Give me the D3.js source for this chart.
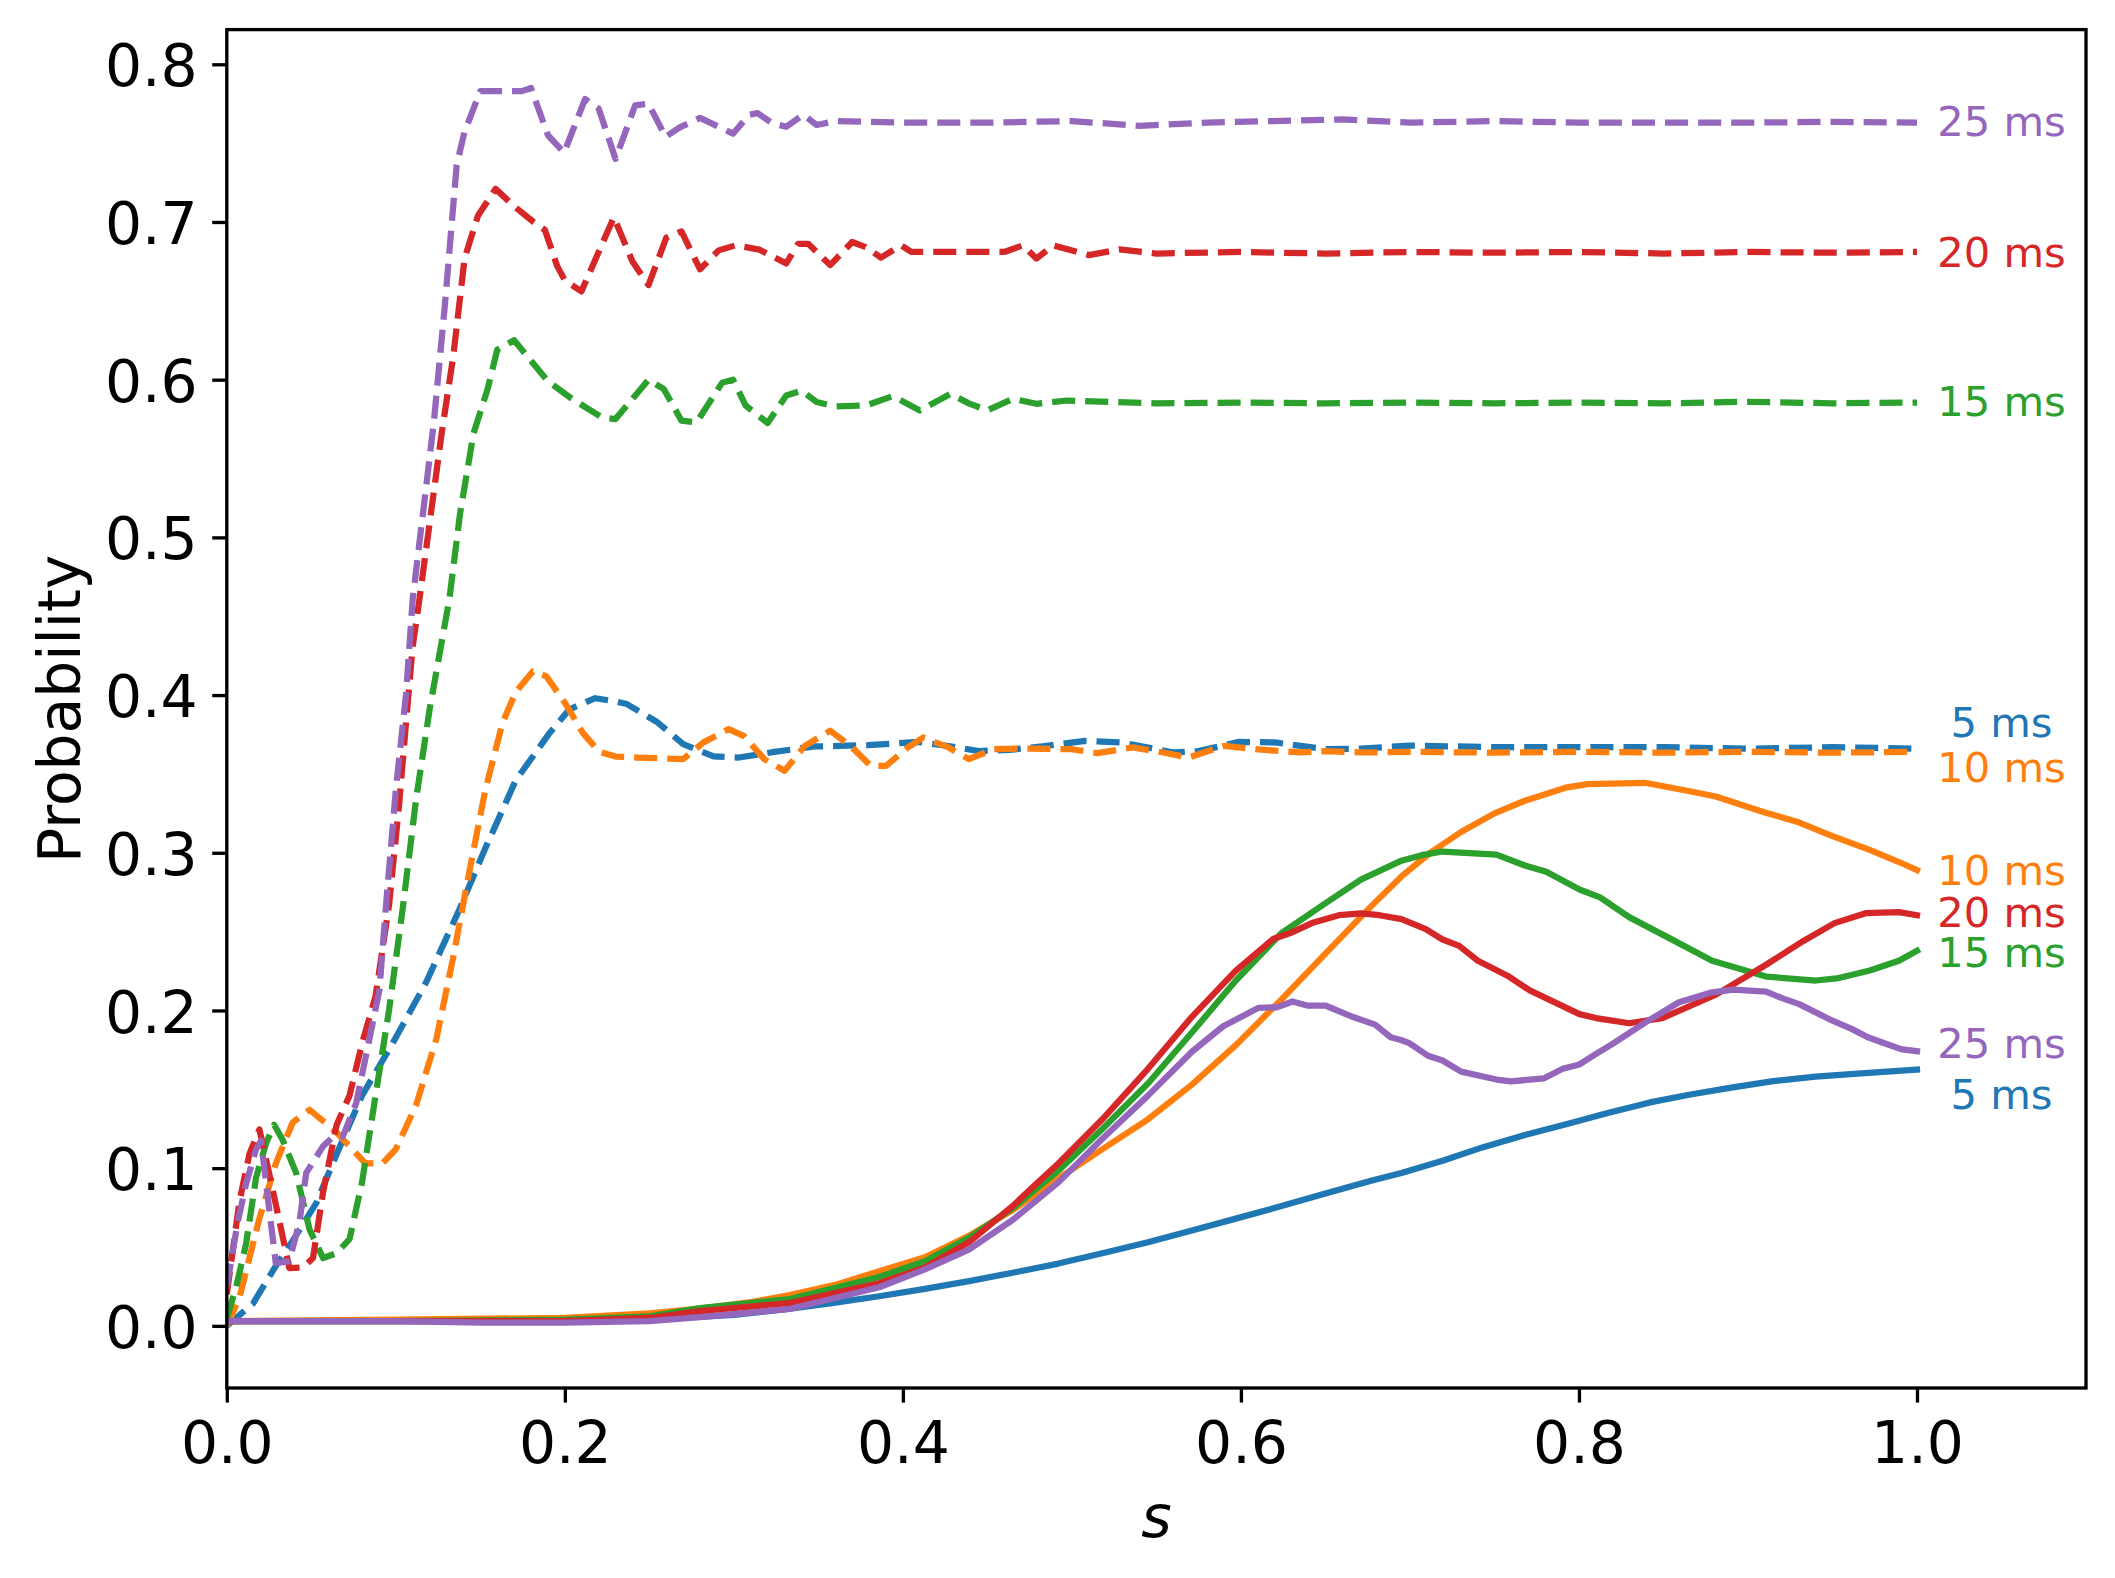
<!DOCTYPE html>
<html>
<head>
<meta charset="utf-8">
<script src="https://cdn.jsdelivr.net/npm/d3@7"></script>
<style>
  html, body { margin: 0; padding: 0; background: #ffffff; }
  svg { display: block; }
</style>
</head>
<body>
<div id="chart"></div>
<script>
// ---------------- DATA ----------------
const durations = ["5 ms", "10 ms", "15 ms", "20 ms", "25 ms"];
const seriesColors = ["#1f77b4", "#ff7f0e", "#2ca02c", "#d62728", "#9467bd"];

const xTicks = [0.0, 0.2, 0.4, 0.6, 0.8, 1.0];
const yTicks = [0.0, 0.1, 0.2, 0.3, 0.4, 0.5, 0.6, 0.7, 0.8];

// dashed curves  [s, probability]
const dashed5 = [[0,0],[0.0154,0.014],[0.029,0.038],[0.039,0.054],[0.053,0.078],[0.065,0.109],[0.08,0.146],[0.098,0.179],[0.118,0.218],[0.1376,0.264],[0.153,0.303],[0.171,0.346],[0.191,0.376],[0.2027,0.391],[0.218,0.398],[0.23,0.396],[0.2367,0.3943],[0.255,0.3826],[0.27,0.3689],[0.288,0.3611],[0.303,0.3604],[0.324,0.364],[0.348,0.3674],[0.379,0.3682],[0.409,0.3703],[0.427,0.3677],[0.445,0.3645],[0.463,0.3652],[0.484,0.3677],[0.508,0.3709],[0.529,0.37],[0.56,0.3636],[0.575,0.3645],[0.599,0.3703],[0.62,0.37],[0.65,0.3657],[0.671,0.3661],[0.7,0.368],[0.75,0.367],[0.8,0.367],[0.85,0.367],[0.9,0.366],[0.95,0.367],[1.0,0.366]];
const dashed10 = [[0,0],[0.0075,0.018],[0.019,0.067],[0.029,0.103],[0.039,0.129],[0.049,0.137],[0.0647,0.123],[0.082,0.103],[0.092,0.103],[0.1,0.112],[0.112,0.14],[0.124,0.182],[0.134,0.234],[0.1435,0.288],[0.153,0.34],[0.163,0.382],[0.171,0.402],[0.181,0.415],[0.189,0.412],[0.2007,0.394],[0.2106,0.376],[0.2204,0.364],[0.23,0.361],[0.243,0.3604],[0.27,0.3594],[0.282,0.37],[0.297,0.3784],[0.306,0.374],[0.318,0.3594],[0.33,0.352],[0.342,0.3678],[0.357,0.3774],[0.369,0.3678],[0.381,0.3551],[0.39,0.3551],[0.403,0.3668],[0.412,0.3731],[0.427,0.3668],[0.439,0.3594],[0.454,0.3657],[0.469,0.3661],[0.4995,0.3657],[0.515,0.3632],[0.536,0.3668],[0.554,0.3636],[0.569,0.3604],[0.59,0.3678],[0.614,0.3652],[0.635,0.3636],[0.65,0.3645],[0.671,0.3636],[0.7,0.364],[0.75,0.3635],[0.8,0.364],[0.85,0.3635],[0.9,0.364],[0.95,0.3635],[1.0,0.364]];
const dashed15 = [[0,0.005],[0.0055,0.0245],[0.0114,0.052],[0.0173,0.094],[0.0233,0.116],[0.028,0.1275],[0.033,0.118],[0.041,0.097],[0.049,0.061],[0.057,0.043],[0.0647,0.046],[0.0726,0.055],[0.08,0.091],[0.088,0.146],[0.096,0.2003],[0.104,0.264],[0.112,0.334],[0.12,0.391],[0.1317,0.461],[0.138,0.515],[0.146,0.566],[0.1543,0.594],[0.16,0.619],[0.17,0.625],[0.19,0.599],[0.204,0.588],[0.222,0.576],[0.23,0.575],[0.2495,0.60],[0.2586,0.594],[0.269,0.574],[0.278,0.573],[0.293,0.598],[0.2995,0.60],[0.307,0.5836],[0.32,0.5725],[0.331,0.59],[0.34,0.5931],[0.349,0.5858],[0.36,0.583],[0.378,0.5836],[0.394,0.5896],[0.41,0.5805],[0.428,0.591],[0.439,0.585],[0.45,0.5805],[0.465,0.5879],[0.479,0.5847],[0.497,0.5868],[0.55,0.585],[0.6,0.5855],[0.65,0.585],[0.7,0.5855],[0.75,0.585],[0.8,0.5855],[0.85,0.585],[0.9,0.586],[0.95,0.585],[1.0,0.5855]];
const dashed20 = [[0,0.02],[0.0075,0.079],[0.0134,0.109],[0.0193,0.1246],[0.025,0.097],[0.031,0.067],[0.037,0.0366],[0.045,0.037],[0.051,0.043],[0.057,0.085],[0.065,0.1276],[0.0726,0.146],[0.08,0.179],[0.088,0.209],[0.096,0.267],[0.102,0.331],[0.106,0.382],[0.11,0.431],[0.114,0.461],[0.127,0.565],[0.134,0.615],[0.1407,0.677],[0.1486,0.704],[0.159,0.721],[0.17,0.71],[0.1815,0.70],[0.1882,0.695],[0.1955,0.672],[0.2,0.663],[0.2098,0.656],[0.229,0.703],[0.24,0.675],[0.2495,0.66],[0.26,0.69],[0.269,0.694],[0.28,0.67],[0.291,0.682],[0.301,0.6852],[0.315,0.6825],[0.331,0.6737],[0.338,0.6862],[0.344,0.6862],[0.357,0.6727],[0.37,0.6873],[0.378,0.6841],[0.387,0.6774],[0.399,0.6852],[0.405,0.681],[0.43,0.681],[0.46,0.681],[0.471,0.6852],[0.479,0.6768],[0.489,0.6852],[0.51,0.679],[0.528,0.6826],[0.55,0.68],[0.6,0.681],[0.65,0.68],[0.7,0.681],[0.75,0.6805],[0.8,0.681],[0.85,0.68],[0.9,0.681],[0.95,0.6805],[1.0,0.681]];
const dashed25 = [[0,0.025],[0.0065,0.066],[0.0114,0.09],[0.0173,0.112],[0.0203,0.1175],[0.0233,0.09],[0.026,0.066],[0.029,0.0397],[0.037,0.041],[0.043,0.066],[0.047,0.097],[0.057,0.114],[0.063,0.12],[0.0686,0.12],[0.0765,0.141],[0.0844,0.182],[0.0903,0.213],[0.094,0.264],[0.1,0.34],[0.106,0.40],[0.11,0.461],[0.1225,0.573],[0.129,0.647],[0.136,0.736],[0.1406,0.757],[0.15,0.783],[0.1746,0.783],[0.18,0.785],[0.19,0.755],[0.1996,0.744],[0.212,0.778],[0.22,0.772],[0.23,0.74],[0.2416,0.774],[0.2495,0.775],[0.2596,0.754],[0.268,0.76],[0.28,0.766],[0.2995,0.756],[0.309,0.768],[0.314,0.769],[0.323,0.7625],[0.331,0.7604],[0.341,0.768],[0.349,0.7615],[0.36,0.764],[0.4,0.763],[0.45,0.763],[0.5,0.764],[0.54,0.761],[0.58,0.763],[0.62,0.764],[0.66,0.765],[0.7,0.763],[0.75,0.764],[0.8,0.763],[0.85,0.763],[0.9,0.763],[0.95,0.7635],[1.0,0.763]];

// solid curves  [s, probability]
const solid5 = [[0,0.003],[0.1,0.003],[0.2,0.003],[0.25,0.004],[0.3,0.007],[0.33,0.0105],[0.36,0.0148],[0.386,0.0188],[0.413,0.0235],[0.44,0.0285],[0.465,0.0337],[0.492,0.0395],[0.518,0.046],[0.545,0.053],[0.571,0.0605],[0.597,0.068],[0.624,0.076],[0.65,0.084],[0.677,0.092],[0.695,0.097],[0.7193,0.1047],[0.7438,0.1135],[0.768,0.121],[0.793,0.128],[0.817,0.135],[0.842,0.1417],[0.866,0.1467],[0.891,0.1512],[0.915,0.1552],[0.94,0.158],[0.965,0.16],[1.0,0.1625]];
const solid10 = [[0,0.003],[0.1,0.004],[0.2,0.005],[0.25,0.008],[0.28,0.011],[0.31,0.015],[0.333,0.0195],[0.36,0.026],[0.386,0.0347],[0.413,0.0435],[0.439,0.0571],[0.465,0.0735],[0.492,0.0935],[0.518,0.112],[0.545,0.131],[0.571,0.153],[0.597,0.178],[0.624,0.207],[0.65,0.236],[0.677,0.266],[0.695,0.285],[0.712,0.3],[0.73,0.313],[0.75,0.325],[0.768,0.333],[0.793,0.3415],[0.805,0.3435],[0.839,0.3444],[0.861,0.34],[0.881,0.3357],[0.91,0.3256],[0.93,0.3193],[0.95,0.3106],[0.972,0.3018],[0.989,0.2943],[1.0,0.289]];
const solid15 = [[0,0.003],[0.1,0.003],[0.2,0.004],[0.25,0.006],[0.28,0.0112],[0.333,0.017],[0.386,0.031],[0.413,0.041],[0.439,0.0558],[0.465,0.0747],[0.492,0.0984],[0.518,0.1248],[0.545,0.1537],[0.571,0.186],[0.597,0.219],[0.624,0.249],[0.65,0.268],[0.671,0.283],[0.695,0.295],[0.707,0.2985],[0.7193,0.3008],[0.7512,0.2988],[0.7684,0.2918],[0.7807,0.288],[0.8003,0.2767],[0.8125,0.2717],[0.8297,0.2592],[0.8543,0.2454],[0.8788,0.2315],[0.9107,0.2215],[0.9402,0.219],[0.9525,0.2203],[0.9721,0.2253],[0.9893,0.2315],[1.0,0.2378]];
const solid20 = [[0,0.003],[0.1,0.003],[0.2,0.003],[0.25,0.005],[0.28,0.0094],[0.333,0.0145],[0.386,0.027],[0.413,0.037],[0.439,0.053],[0.465,0.076],[0.4785,0.0897],[0.492,0.103],[0.518,0.131],[0.545,0.163],[0.571,0.196],[0.597,0.2253],[0.619,0.2453],[0.6292,0.2491],[0.642,0.2554],[0.658,0.2604],[0.671,0.2616],[0.682,0.2604],[0.695,0.2579],[0.7094,0.2516],[0.7193,0.245],[0.7291,0.241],[0.7402,0.2315],[0.7586,0.2215],[0.7709,0.2127],[0.8003,0.1977],[0.8101,0.1952],[0.8297,0.1919],[0.8494,0.1952],[0.8813,0.2102],[0.9107,0.229],[0.9328,0.2441],[0.9512,0.2554],[0.9696,0.2617],[0.9893,0.2624],[1.0,0.2604]];
const solid25 = [[0,0.003],[0.1,0.003],[0.15,0.002],[0.2,0.002],[0.25,0.003],[0.28,0.0056],[0.333,0.0107],[0.386,0.0245],[0.413,0.0358],[0.439,0.0483],[0.465,0.0672],[0.492,0.091],[0.518,0.1186],[0.545,0.146],[0.571,0.1738],[0.5895,0.19],[0.6105,0.2017],[0.6213,0.202],[0.6305,0.2057],[0.6397,0.203],[0.6503,0.203],[0.666,0.196],[0.6794,0.191],[0.6886,0.183],[0.6947,0.1813],[0.6996,0.1793],[0.7107,0.1713],[0.7193,0.1683],[0.7303,0.1612],[0.7512,0.1562],[0.7598,0.155],[0.7794,0.157],[0.7904,0.163],[0.8003,0.1658],[0.8101,0.1725],[0.8199,0.1788],[0.8396,0.1926],[0.8592,0.2052],[0.8788,0.2115],[0.8911,0.2132],[0.9107,0.212],[0.9205,0.2077],[0.9303,0.204],[0.95,0.1935],[0.961,0.1885],[0.9709,0.183],[0.9795,0.1797],[0.9905,0.1755],[1.0,0.1742]];

const dashedSeries = [dashed5, dashed10, dashed15, dashed20, dashed25];
const solidSeries  = [solid5, solid10, solid15, solid20, solid25];

// end-of-curve annotations: label text, series index, vertical position (data units)
const labelTexts  = ["25 ms", "20 ms", "15 ms", "5 ms", "10 ms", "10 ms", "20 ms", "15 ms", "25 ms", "5 ms"];
const labelSeries = [4, 3, 2, 0, 1, 1, 3, 2, 4, 0];
const labelY      = [0.762, 0.679, 0.584, 0.381, 0.352, 0.287, 0.260, 0.235, 0.177, 0.145];
const labelX = 1.05;

// ---------------- LAYOUT ----------------
const W = 2115, H = 1578;
const plot = { left: 226.8, right: 2086, top: 29.6, bottom: 1388 };
const FONT = "'DejaVu Sans', 'Liberation Sans', sans-serif";
const fsLabel = 58.33, fsAnno = 41.67;
const tickLen = 14.58, tickPad = 14.58, spineW = 3.33, lineW = 6.25;

const svg = d3.select("#chart").append("svg")
  .attr("width", W).attr("height", H)
  .attr("viewBox", `0 0 ${W} ${H}`);
svg.append("rect").attr("width", W).attr("height", H).attr("fill", "#ffffff");

const x = d3.scaleLinear().domain([0, 1.1]).range([plot.left, plot.right]);
const y = d3.scaleLinear().domain([-0.0394, 0.822]).range([plot.bottom, plot.top]);

svg.append("defs").append("clipPath").attr("id", "clip")
  .append("rect")
  .attr("x", plot.left).attr("y", plot.top)
  .attr("width", plot.right - plot.left).attr("height", plot.bottom - plot.top);

const line = d3.line().x(d => x(d[0])).y(d => y(d[1]));
const gLines = svg.append("g").attr("clip-path", "url(#clip)");

durations.forEach((name, i) => {
  gLines.append("path")
    .attr("d", line(dashedSeries[i]))
    .attr("fill", "none")
    .attr("stroke", seriesColors[i])
    .attr("stroke-width", lineW)
    .attr("stroke-dasharray", "23.1,10")
    .attr("stroke-linecap", "butt")
    .attr("stroke-linejoin", "round");
  gLines.append("path")
    .attr("d", line(solidSeries[i]))
    .attr("fill", "none")
    .attr("stroke", seriesColors[i])
    .attr("stroke-width", lineW)
    .attr("stroke-linecap", "square")
    .attr("stroke-linejoin", "round");
});

// annotations
svg.append("g").selectAll("text")
  .data(labelTexts)
  .join("text")
  .attr("x", x(labelX))
  .attr("y", (d, i) => y(labelY[i]))
  .attr("dy", "0.276em")
  .attr("text-anchor", "middle")
  .attr("font-family", FONT)
  .attr("font-size", fsAnno)
  .attr("fill", (d, i) => seriesColors[labelSeries[i]])
  .text(d => d);

// axes
const xAxis = d3.axisBottom(x).tickValues(xTicks).tickFormat(d3.format(".1f"))
  .tickSizeInner(tickLen).tickSizeOuter(0).tickPadding(tickPad);
const gx = svg.append("g").attr("transform", `translate(0,${plot.bottom})`).call(xAxis);
gx.select(".domain").remove();
gx.selectAll(".tick line").attr("stroke", "#000").attr("stroke-width", spineW);
gx.selectAll(".tick text")
  .attr("font-family", FONT).attr("font-size", fsLabel).attr("fill", "#000")
  .attr("y", 75).attr("dy", null);

const yAxis = d3.axisLeft(y).tickValues(yTicks).tickFormat(d3.format(".1f"))
  .tickSizeInner(tickLen).tickSizeOuter(0).tickPadding(tickPad);
const gy = svg.append("g").attr("transform", `translate(${plot.left},0)`).call(yAxis);
gy.select(".domain").remove();
gy.selectAll(".tick line").attr("stroke", "#000").attr("stroke-width", spineW);
gy.selectAll(".tick text")
  .attr("font-family", FONT).attr("font-size", fsLabel).attr("fill", "#000")
  .attr("x", -(tickLen + tickPad)).attr("dy", "0.37em");

// spines (box)
svg.append("rect")
  .attr("x", plot.left).attr("y", plot.top)
  .attr("width", plot.right - plot.left).attr("height", plot.bottom - plot.top)
  .attr("fill", "none").attr("stroke", "#000").attr("stroke-width", spineW)
  .attr("stroke-linejoin", "miter");

// axis titles
svg.append("text")
  .attr("x", (plot.left + plot.right) / 2).attr("y", 1537)
  .attr("text-anchor", "middle")
  .attr("font-family", FONT).attr("font-size", fsLabel).attr("font-style", "italic")
  .attr("fill", "#000")
  .text("s");

svg.append("text")
  .attr("transform", `translate(80,${(plot.top + plot.bottom) / 2}) rotate(-90)`)
  .attr("text-anchor", "middle")
  .attr("font-family", FONT).attr("font-size", fsLabel)
  .attr("fill", "#000")
  .text("Probability");
</script>
</body>
</html>
